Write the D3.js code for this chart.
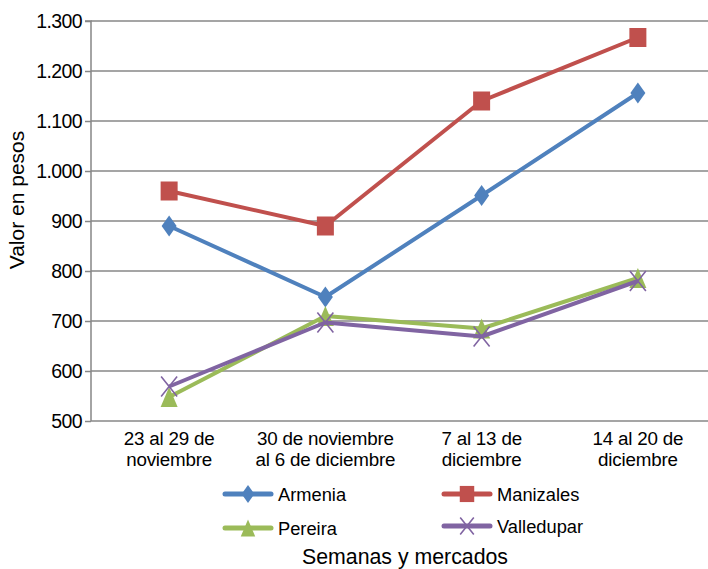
<!DOCTYPE html>
<html><head><meta charset="utf-8">
<script src="https://cdn.jsdelivr.net/npm/d3@7"></script>
<style>
body{margin:0;background:#fff;}
text{font-family:"Liberation Sans",Arial,sans-serif;fill:#000;}
</style></head>
<body><svg id="c" width="708" height="569"></svg>
<script>
const categories = [["23 al 29 de","noviembre"],["30 de noviembre","al 6 de diciembre"],["7 al 13 de","diciembre"],["14 al 20 de","diciembre"]];
const seriesNames = ["Armenia","Manizales","Pereira","Valledupar"];
const armenia = [890, 748, 951, 1156];
const manizales = [960, 890, 1140, 1267];
const pereira = [548, 710, 685, 786];
const valledupar = [569, 697, 669, 780];
const yTicks = [500,600,700,800,900,1000,1100,1200,1300];
const colors = ["#4F81BD","#C0504D","#9BBB59","#8064A2"];
const symbols = ["diamond","square","triangle","x"];

const svg = d3.select("#c");
const pLeft = 91, pRight = 716, pTop = 21, pBottom = 421;
const x = d3.scaleBand().domain(d3.range(categories.length)).range([pLeft, pRight]);
const y = d3.scaleLinear().domain([500,1300]).range([pBottom, pTop]);
const loc = d3.formatLocale({decimal:",",thousands:".",grouping:[3],currency:["$",""]});
const fmt = loc.format(",");

// gridlines
svg.append("g").selectAll("line").data(yTicks.slice(1)).join("line")
  .attr("x1", pLeft).attr("x2", pRight).attr("y1", d=>y(d)).attr("y2", d=>y(d))
  .attr("stroke","#878787").attr("stroke-width",1.5);

// y axis
const ya = svg.append("g").attr("transform",`translate(${pLeft},0)`)
  .call(d3.axisLeft(y).tickValues(yTicks).tickFormat(fmt).tickSize(6).tickPadding(3));
ya.select(".domain").attr("stroke","#878787").attr("stroke-width",1.5).attr("d",`M-6,${pTop}H0V${pBottom}`);
ya.selectAll(".tick line").attr("stroke","#878787").attr("stroke-width",1.5);
ya.selectAll(".tick text").attr("font-size","19.5px").attr("letter-spacing","-0.6px")
  .style("font-family",'"Liberation Sans",Arial,sans-serif').attr("fill","#000");

// x axis line
svg.append("line").attr("x1",pLeft).attr("x2",pRight).attr("y1",pBottom).attr("y2",pBottom)
  .attr("stroke","#878787").attr("stroke-width",1.5);

// category labels
const cl = svg.append("g").selectAll("text").data(categories).join("text")
  .attr("text-anchor","middle").attr("font-size","18.8px").attr("letter-spacing","-0.2px");
cl.each(function(d,i){
  const t = d3.select(this);
  d.forEach((ln,j)=>t.append("tspan").attr("x", x(i)+x.bandwidth()/2).attr("y", 445 + j*20.5).text(ln));
});

function marker(g, type, color, cx, cy, legend){
  const s = legend ? 0.85 : 1;
  if(type==="diamond"){
    g.append("path").attr("d",`M${cx},${cy-10.5*s}L${cx+7.5*s},${cy}L${cx},${cy+10.5*s}L${cx-7.5*s},${cy}Z`).attr("fill",color);
  } else if(type==="square"){
    const w = 17*s, h = 19*s;
    g.append("rect").attr("x",cx-w/2).attr("y",cy-h/2).attr("width",w).attr("height",h).attr("fill",color);
  } else if(type==="triangle"){
    g.append("path").attr("d",`M${cx},${cy-10*s}L${cx+8.5*s},${cy+10*s}L${cx-8.5*s},${cy+10*s}Z`).attr("fill",color);
  } else {
    g.append("path").attr("d",`M${cx-8*s},${cy-10*s}L${cx+8*s},${cy+10*s}M${cx+8*s},${cy-10*s}L${cx-8*s},${cy+10*s}`)
      .attr("stroke",color).attr("stroke-width",1.6).attr("fill","none");
  }
}

const data = [armenia, manizales, pereira, valledupar];
const line = d3.line().x((d,i)=>x(i)+x.bandwidth()/2).y(d=>y(d));
data.forEach((vals,k)=>{
  const g = svg.append("g");
  g.append("path").datum(vals).attr("d",line).attr("fill","none")
    .attr("stroke",colors[k]).attr("stroke-width",4).attr("stroke-linejoin","round");
  vals.forEach((v,i)=>marker(g, symbols[k], colors[k], x(i)+x.bandwidth()/2, y(v)));
});

// legend
const legPos = [[225,494],[444,494],[225,528],[444,526]];
seriesNames.forEach((n,k)=>{
  const [lx,ly] = legPos[k];
  const g = svg.append("g");
  g.append("line").attr("x1",lx).attr("x2",lx+46).attr("y1",ly).attr("y2",ly)
    .attr("stroke",colors[k]).attr("stroke-width",5).attr("stroke-linecap","round");
  marker(g, symbols[k], colors[k], lx+23, ly, true);
  g.append("text").attr("x",lx+53).attr("y",ly+6.5).attr("font-size","18.3px").text(n);
});

// axis titles
svg.append("text").attr("x",405).attr("y",564).attr("text-anchor","middle").attr("font-size","21.3px").text("Semanas y mercados");
svg.append("text").attr("transform","translate(24,200) rotate(-90)").attr("text-anchor","middle").attr("font-size","21px").text("Valor en pesos");
</script></body></html>
